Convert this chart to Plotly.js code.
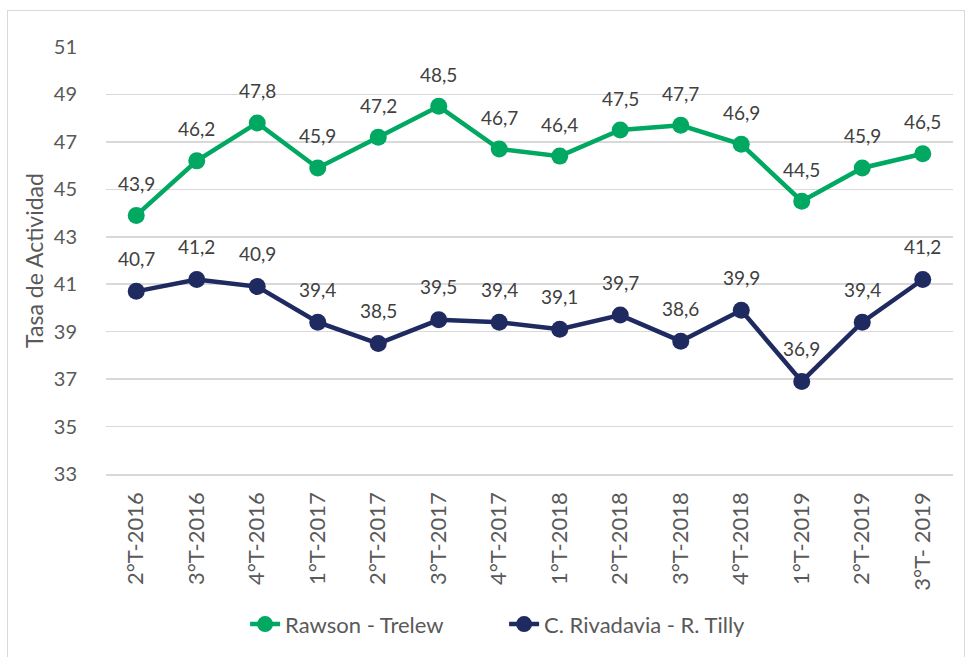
<!DOCTYPE html>
<html>
<head>
<meta charset="utf-8">
<script src="https://cdn.plot.ly/plotly-3.0.1.min.js"></script>
<style>
  html, body { margin: 0; padding: 0; background: #fff; }
  #wrap { position: relative; width: 972px; height: 657px; overflow: hidden; }
  #frame { position: absolute; left: 7px; top: 10px; width: 958px; height: 660px; border: 1.5px solid #d9d9d9; box-sizing: border-box; pointer-events: none; z-index: 5; }
  #chart { position: absolute; left: 0; top: 0; width: 972px; height: 657px; }
</style>
</head>
<body>
<div id="wrap">
  <div id="chart"></div>
  <div id="frame"></div>
</div>
<script>
const categories = ["2°T-2016","3°T-2016","4°T-2016","1°T-2017","2°T-2017","3°T-2017","4°T-2017","1°T-2018","2°T-2018","3°T-2018","4°T-2018","1°T-2019","2°T-2019","3°T- 2019"];
const rawsonTrelew = [43.9,46.2,47.8,45.9,47.2,48.5,46.7,46.4,47.5,47.7,46.9,44.5,45.9,46.5];
const rivadaviaTilly = [40.7,41.2,40.9,39.4,38.5,39.5,39.4,39.1,39.7,38.6,39.9,36.9,39.4,41.2];
const seriesNames = ["Rawson - Trelew","C. Rivadavia - R. Tilly"];
const yTicks = [33,35,37,39,41,43,45,47,49,51];

const GREEN = "#00A862";
const NAVY = "#1F2A60";
const FONT = "Lato, 'Open Sans', sans-serif";
const fmt = v => v.toFixed(1).replace(".", ",");

function series(name, ys, color) {
  return {
    type: "scatter", mode: "lines+markers", name: name,
    x: categories, y: ys,
    line: { color: color, width: 4.5 },
    marker: { color: color, size: 17 },
    cliponaxis: false
  };
}

const annotations = [];
function addLabels(ys, shift) {
  ys.forEach((v, i) => annotations.push({
    x: categories[i], y: v, xref: "x", yref: "y",
    text: fmt(v), showarrow: false, yshift: shift,
    font: { family: FONT, size: 19, color: "#404040" }
  }));
}
addLabels(rawsonTrelew, 32);
addLabels(rivadaviaTilly, 33);

const layout = {
  width: 972, height: 657,
  margin: { l: 106, r: 19, t: 47, b: 181 },
  paper_bgcolor: "#ffffff", plot_bgcolor: "#ffffff",
  font: { family: FONT, color: "#595959" },
  showlegend: true,
  legend: {
    orientation: "h", x: 0.47, xanchor: "center", y: -0.352, yanchor: "middle",
    font: { family: FONT, size: 22, color: "#595959" },
    entrywidth: 214, entrywidthmode: "pixels"
  },
  xaxis: {
    type: "category", tickangle: -90,
    tickfont: { family: FONT, size: 22, color: "#595959" },
    showgrid: false, showline: true, linecolor: "#d9d9d9", linewidth: 1.5,
    ticks: "outside", ticklen: 8, tickcolor: "rgba(0,0,0,0)", zeroline: false, range: [-0.5, 13.5]
  },
  yaxis: {
    range: [33, 51], tickvals: yTicks, ticktext: yTicks.map(String),
    tickfont: { family: FONT, size: 20, color: "#595959" },
    showgrid: true, gridcolor: "#d9d9d9", gridwidth: 1.5,
    showline: false, zeroline: false, ticks: "outside", tickcolor: "rgba(0,0,0,0)", ticklen: 24,
    title: { text: "Tasa de Actividad", font: { family: FONT, size: 23, color: "#595959" }, standoff: 3 }
  },
  annotations: annotations
};

Plotly.newPlot("chart", [series(seriesNames[0], rawsonTrelew, GREEN), series(seriesNames[1], rivadaviaTilly, NAVY)], layout, { displayModeBar: false, staticPlot: true });
</script>
</body>
</html>
